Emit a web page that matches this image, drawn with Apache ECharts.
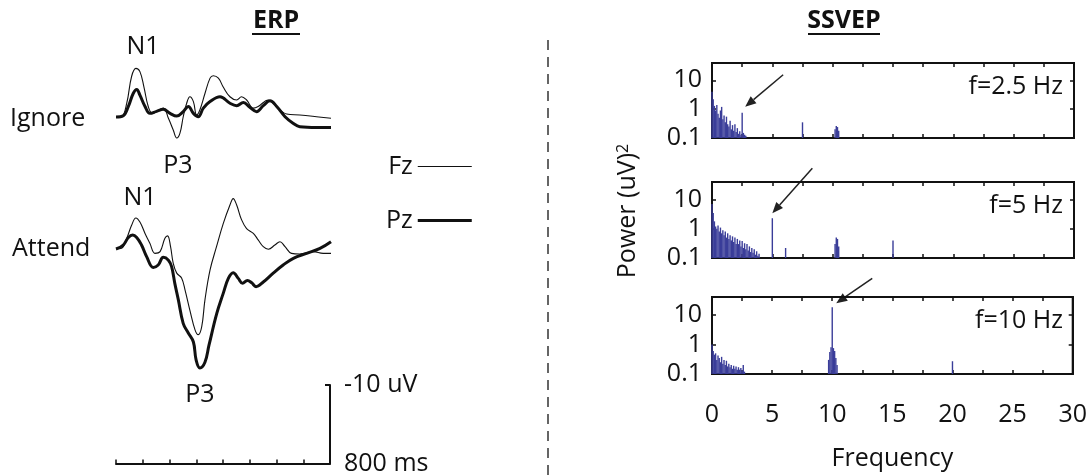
<!DOCTYPE html>
<html>
<head>
<meta charset="utf-8">
<script src="https://cdn.jsdelivr.net/npm/echarts@6/dist/echarts.min.js"></script>
<style>
  html, body { margin: 0; padding: 0; background: #fff; }
  #main { width: 1090px; height: 476px; }
</style>
</head>
<body>
<div id="main"></div>
<script>
// ERP traces: [time ms, amplitude uV] (negative plotted up)
var ignoreFz = [[0,0],[21,-0.05],[40,-1.7],[58,-5.0],[74,-6.0],[89,-5.6],[104,-3.7],[120,-1.3],[136,-0.45],
  [176,-1.1],[195,0.16],[213,1.6],[226,2.6],[238,2.0],[250,0],[263,-1.7],[275,-2.5],[288,-1.9],[300,-0.25],
  [312,-0.86],[331,-2.9],[350,-4.8],[362,-5.1],[381,-4.8],[399,-3.7],[424,-2.5],[449,-2.1],[467,-2.5],
  [486,-2.1],[511,-1.1],[529,-1.3],[567,-2.1],[585,-1.7],[610,-0.86],[635,-0.37],[684,-0.25],[746,-0.04],[800,0.16]];
var ignorePz = [[0,0],[27,-0.16],[46,-1.3],[64,-2.9],[77,-3.4],[89,-2.7],[108,-1.3],[126,-0.45],[151,-0.7],
  [176,-0.95],[201,-0.45],[226,-0.12],[250,-0.66],[269,-1.3],[288,-0.45],[306,-0.04],[325,-1.1],[350,-1.9],
  [387,-2.5],[424,-1.7],[449,-1.4],[474,-1.8],[498,-1.2],[523,-0.66],[548,-1.4],[573,-2.0],[598,-1.3],
  [629,-0.04],[660,0.8],[684,1.2],[746,1.3],[800,1.3]];
var attendFz = [[0,0.12],[21,0.04],[40,-1.2],[58,-2.8],[74,-3.7],[89,-3.2],[108,-1.8],[126,-0.58],[145,0.66],
  [164,0.45],[182,-1.2],[192,-1.5],[203,-0.16],[213,1.9],[226,3.1],[244,3.7],[257,5.2],[275,7.7],[294,10.1],
  [306,10.7],[319,9.7],[331,6.4],[350,2.7],[374,-0.16],[399,-3.0],[424,-5.3],[436,-6.1],[449,-5.3],[467,-3.5],
  [486,-2.4],[511,-1.8],[529,-1.0],[548,-0.16],[567,0.16],[591,-0.37],[610,-0.78],[629,-0.16],[653,0.66],
  [684,0.74],[734,0.45],[771,0.66],[800,0.66]];
var attendPz = [[0,0.12],[27,-0.37],[46,-1.3],[62,-1.6],[77,-1.3],[95,-0.37],[114,1.07],[139,2.4],[157,2.1],
  [176,1.15],[195,1.5],[207,2.3],[219,4.4],[232,6.4],[250,9.3],[269,10.5],[288,11.6],[298,13.8],[312,14.8],
  [331,14.1],[346,12.0],[375,8.07],[399,5.6],[418,3.75],[436,3.05],[455,3.75],[471,4.36],[489,4.0],[505,4.3],
  [521,4.77],[548,4.2],[585,3.1],[622,2.1],[660,1.27],[709,0.66],[759,0.04],[800,-0.78]];

// SSVEP power spectra: [frequency Hz, power uV^2]
var spec25 = [[0.0,4.0],[0.1,2.2],[0.2,1.3],[0.3,0.9],[0.4,1.4],[0.5,0.7],[0.6,0.5],[0.7,0.9],[0.8,1.2],
  [0.9,0.45],[1.0,0.6],[1.1,0.35],[1.2,0.55],[1.3,0.3],[1.4,0.25],[1.5,0.4],[1.6,0.2],[1.7,0.28],[1.8,0.18],
  [1.9,0.3],[2.0,0.16],[2.1,0.22],[2.2,0.14],[2.3,0.17],[2.4,0.13],[2.5,0.75],[2.6,0.15],[2.7,0.13],[2.8,0.12],
  [7.5,0.35],[10.2,0.2],[10.3,0.26],[10.4,0.24],[10.5,0.18]];
var spec5 = [[0.0,7.0],[0.1,3.5],[0.2,1.8],[0.3,1.2],[0.4,1.0],[0.5,1.3],[0.6,0.8],[0.7,1.1],[0.8,0.7],[0.9,0.9],
  [1.0,0.6],[1.1,0.8],[1.2,0.5],[1.3,0.7],[1.4,0.45],[1.5,0.6],[1.6,0.4],[1.7,0.55],[1.8,0.35],[1.9,0.5],
  [2.0,0.3],[2.1,0.45],[2.2,0.3],[2.3,0.4],[2.4,0.25],[2.5,0.38],[2.6,0.22],[2.7,0.32],[2.8,0.2],[2.9,0.3],
  [3.0,0.18],[3.1,0.25],[3.2,0.16],[3.3,0.22],[3.4,0.15],[3.5,0.2],[3.6,0.13],[3.7,0.17],[3.8,0.12],[3.9,0.14],
  [5.0,2.3],[6.1,0.22],[10.2,0.3],[10.3,0.5],[10.4,0.45],[10.5,0.25],[15.0,0.4]];
var spec10 = [[0.0,1.0],[0.1,0.6],[0.2,0.45],[0.3,0.5],[0.4,0.3],[0.5,0.42],[0.6,0.35],[0.7,0.25],[0.8,0.38],
  [0.9,0.22],[1.0,0.3],[1.1,0.2],[1.2,0.28],[1.3,0.18],[1.4,0.22],[1.5,0.17],[1.6,0.2],[1.7,0.15],[1.8,0.19],
  [1.9,0.15],[2.0,0.18],[2.1,0.14],[2.2,0.17],[2.3,0.14],[2.4,0.16],[2.5,0.13],[2.6,0.2],[2.7,0.12],
  [9.7,0.3],[9.8,0.55],[9.9,0.8],[10.0,18],[10.1,0.75],[10.2,0.6],[10.3,0.35],[10.4,0.2],[20.0,0.27]];

var panelLabels = ['f=2.5 Hz', 'f=5 Hz', 'f=10 Hz'];
var stimPeaks = [[2.5, 0.75], [5.0, 2.3], [10.0, 18]];
var freqTicks = [0, 5, 10, 15, 20, 25, 30];
var powerTicks = [0.1, 1, 10];

var FONT = 'Open Sans';
var INK = '#111';
var BLUE = '#3a3d99';
var THIN = 1.1, THICK = 3;

var chart = echarts.init(document.getElementById('main'));

// spectrum panels
var panelTops = [63, 182, 297];
var panelH = [75, 76, 77];
var specs = [spec25, spec5, spec10];

var grids = [
  { left: 116, top: 36, width: 215, height: 162 },   // ignore
  { left: 116, top: 167, width: 215, height: 243 },  // attend
  { left: 116, top: 385, width: 214, height: 81 }    // scale bar
];
var xAxes = [
  { gridIndex: 0, type: 'value', min: 0, max: 800, show: false },
  { gridIndex: 1, type: 'value', min: 0, max: 800, show: false },
  { gridIndex: 2, type: 'value', min: 0, max: 800, interval: 100,
    axisLine: { onZero: false, lineStyle: { color: INK, width: 2 } },
    axisTick: { inside: true, length: 4, lineStyle: { color: INK, width: 1.5 } },
    axisLabel: { show: false }, splitLine: { show: false },
    name: '800 ms', nameLocation: 'end', nameGap: 14,
    nameTextStyle: { fontSize: 25, fontFamily: FONT, color: INK, verticalAlign: 'middle' } }
];
var yAxes = [
  { gridIndex: 0, type: 'value', min: -10, max: 10, inverse: true, show: false },
  { gridIndex: 1, type: 'value', min: -10, max: 20, inverse: true, show: false },
  { gridIndex: 2, type: 'value', min: -10, max: 0, interval: 10, inverse: true, position: 'right',
    axisLine: { show: true, onZero: false, lineStyle: { color: INK, width: 2 } },
    axisTick: { show: true, inside: true, length: 5, lineStyle: { color: INK, width: 2 } },
    axisLabel: { margin: 14, fontSize: 25, fontFamily: FONT, color: INK,
      formatter: function (v) { return v === -10 ? '-10 uV' : ''; } },
    splitLine: { show: false } }
];

var isDecade = function (v) {
  var l = Math.log10(v);
  return Math.abs(l - Math.round(l)) < 1e-6 && powerTicks.indexOf(Math.pow(10, Math.round(l))) >= 0;
};

var spectrumSeries = [];
for (var i = 0; i < 3; i++) {
  grids.push({ left: 712, top: panelTops[i], width: 362, height: panelH[i],
    show: true, borderColor: INK, borderWidth: 2 });
  var g = grids.length - 1;
  var isLast = i === 2;
  xAxes.push({ gridIndex: g, type: 'value', min: 0, max: 30, interval: 5, position: 'bottom',
    axisLine: { onZero: false, lineStyle: { color: INK, width: 2 } },
    axisTick: { inside: true, length: 4, lineStyle: { color: INK, width: 1.5 } },
    minorTick: { show: true, splitNumber: 2, length: 4, lineStyle: { color: INK, width: 1.5 } },
    axisLabel: { show: isLast, margin: 28, fontSize: 25, fontFamily: FONT, color: INK,
      formatter: function (v) { return freqTicks.indexOf(v) >= 0 ? String(v) : ''; } },
    splitLine: { show: false },
    name: isLast ? 'Frequency' : '', nameLocation: 'middle', nameGap: 72,
    nameTextStyle: { fontSize: 25, fontFamily: FONT, color: INK } });
  var xb = xAxes.length - 1;
  xAxes.push({ gridIndex: g, type: 'value', min: 0, max: 30, interval: 5, position: 'top',
    axisLine: { onZero: false, lineStyle: { color: INK, width: 2 } },
    axisTick: { inside: true, length: 4, lineStyle: { color: INK, width: 1.5 } },
    minorTick: { show: true, splitNumber: 2, length: 4, lineStyle: { color: INK, width: 1.5 } },
    axisLabel: { show: false }, splitLine: { show: false } });
  yAxes.push({ gridIndex: g, type: 'log', logBase: 10, min: 0.1, max: 40, position: 'left',
    axisLine: { onZero: false, lineStyle: { color: INK, width: 2 } },
    axisTick: { inside: true, length: 4, lineStyle: { color: INK, width: 1.5 } },
    axisLabel: { margin: 10, fontSize: 25, fontFamily: FONT, color: INK,
      formatter: function (v) { return isDecade(v) ? String(+v.toPrecision(3)) : ''; } },
    splitLine: { show: false } });
  var yl = yAxes.length - 1;
  yAxes.push({ gridIndex: g, type: 'log', logBase: 10, min: 0.1, max: 40, position: 'right',
    axisLine: { onZero: false, lineStyle: { color: INK, width: 2 } },
    axisTick: { inside: true, length: 4, lineStyle: { color: INK, width: 1.5 } },
    axisLabel: { show: false }, splitLine: { show: false } });

  spectrumSeries.push({
    type: 'custom', xAxisIndex: xb, yAxisIndex: yl, data: specs[i], silent: true,
    renderItem: function (params, api) {
      var top = api.coord([api.value(0), api.value(1)]);
      var base = api.coord([api.value(0), 0.1]);
      return { type: 'line', shape: { x1: top[0], y1: base[1], x2: top[0], y2: top[1] },
        style: { stroke: BLUE, lineWidth: 1.4 } };
    }
  });
}

function erpLine(name, data, gi, width) {
  return { name: name, type: 'line', xAxisIndex: gi, yAxisIndex: gi, data: data,
    symbol: 'none', smooth: 0.4, silent: true,
    lineStyle: { color: INK, width: width }, itemStyle: { color: INK } };
}

function txt(x, y, text, opt) {
  opt = opt || {};
  return { type: 'text', x: x, y: y, silent: true,
    style: { text: text, fontSize: opt.size || 25, fontFamily: FONT, fontWeight: opt.bold ? 'bold' : 'normal',
      fill: INK, align: opt.align || 'center', verticalAlign: 'middle' } };
}

var graphics = [
  txt(276, 21, 'ERP', { bold: true }),
  { type: 'line', shape: { x1: 252, y1: 34, x2: 300, y2: 34 }, style: { stroke: INK, lineWidth: 2 } },
  txt(844, 21, 'SSVEP', { bold: true }),
  { type: 'line', shape: { x1: 808, y1: 34, x2: 880, y2: 34 }, style: { stroke: INK, lineWidth: 2 } },
  txt(143, 47, 'N1'),
  txt(10, 119, 'Ignore', { align: 'left' }),
  txt(178, 166, 'P3'),
  txt(140, 198, 'N1'),
  txt(12, 249, 'Attend', { align: 'left' }),
  txt(200, 395, 'P3'),
  { type: 'line', shape: { x1: 548, y1: 40, x2: 548, y2: 476 },
    style: { stroke: '#333', lineWidth: 1.5, lineDash: [10, 7] } },
  { type: 'text', x: 628, y: 211, rotation: Math.PI / 2, silent: true,
    style: { text: '{a|Power (uV)}{s|2}', align: 'center', verticalAlign: 'middle', fill: INK,
      rich: { a: { fontSize: 25, fontFamily: FONT, fill: INK },
              s: { fontSize: 16, fontFamily: FONT, fill: INK, verticalAlign: 'top' } } } }
];
for (var k = 0; k < 3; k++) {
  graphics.push(txt(1063, panelTops[k] + 24, panelLabels[k], { align: 'right' }));
}

chart.setOption({
  animation: false,
  backgroundColor: '#fff',
  textStyle: { fontFamily: FONT },
  grid: grids,
  xAxis: xAxes,
  yAxis: yAxes,
  legend: {
    data: [
      { name: 'Fz', lineStyle: { color: INK, width: THIN } },
      { name: 'Pz', lineStyle: { color: INK, width: THICK } }
    ],
    orient: 'vertical', left: 386, top: 154, padding: 0, align: 'right',
    itemWidth: 54, itemHeight: 12, itemGap: 29, selectedMode: false,
    itemStyle: { color: 'rgba(0,0,0,0)', borderColor: 'rgba(0,0,0,0)', borderWidth: 0, opacity: 0 },
    textStyle: { fontSize: 25, fontFamily: FONT, color: INK }
  },
  series: [
    erpLine('Fz', ignoreFz, 0, THIN),
    erpLine('Pz', ignorePz, 0, THICK),
    erpLine('Fz', attendFz, 1, THIN),
    erpLine('Pz', attendPz, 1, THICK)
  ].concat(spectrumSeries),
  graphic: graphics
});

// arrows pointing at the stimulation frequency peaks
var tipOffsets = [[3, -6], [0, -5], [4, -4]];
var tailOffsets = [[38, -32], [40, -45], [36, -25]];
var arrows = [];
for (var a = 0; a < 3; a++) {
  var tip = chart.convertToPixel({ xAxisIndex: 3 + a * 2, yAxisIndex: 3 + a * 2 }, stimPeaks[a]);
  tip = [tip[0] + tipOffsets[a][0], tip[1] + tipOffsets[a][1]];
  var tail = [tip[0] + tailOffsets[a][0], tip[1] + tailOffsets[a][1]];
  var dx = tip[0] - tail[0], dy = tip[1] - tail[1];
  var len = Math.sqrt(dx * dx + dy * dy);
  var ux = dx / len, uy = dy / len;
  var bx = tip[0] - ux * 11, by = tip[1] - uy * 11;
  arrows.push({ type: 'line', silent: true, shape: { x1: tail[0], y1: tail[1], x2: bx, y2: by },
    style: { stroke: '#222', lineWidth: 1.5 } });
  arrows.push({ type: 'polygon', silent: true,
    shape: { points: [tip, [bx - uy * 4.5, by + ux * 4.5], [bx + uy * 4.5, by - ux * 4.5]] },
    style: { fill: '#222' } });
}
chart.setOption({ graphic: graphics.concat(arrows) });
</script>
</body>
</html>
